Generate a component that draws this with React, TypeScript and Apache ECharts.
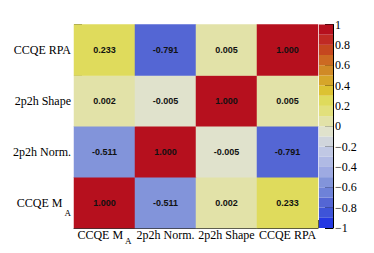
import React, { useEffect, useRef } from "react";
import * as echarts from "echarts";

const params = ["CCQE M_A", "2p2h Norm.", "2p2h Shape", "CCQE RPA"];
// correlation matrix rows (y index from bottom) x columns
const corrRows = [
  [1.0, -0.511, 0.002, 0.233],
  [-0.511, 1.0, -0.005, -0.791],
  [0.002, -0.005, 1.0, 0.005],
  [0.233, -0.791, 0.005, 1.0],
];
// palette bins from -1 to 1, step 0.1
const binEdges = [-1, -0.9, -0.8, -0.7, -0.6, -0.5, -0.4, -0.3, -0.2, -0.1, 0, 0.1, 0.2, 0.3, 0.4, 0.5, 0.6, 0.7, 0.8, 0.9, 1];
const binColors = [
  "#2438e2", "#3e54d8", "#5466d4", "#6e82d8", "#8294da",
  "#9eaae2", "#b0bae4", "#c0c8e4", "#d0d5dc", "#e0e2cc",
  "#e2e2a8", "#e2e07c", "#dfdb5c", "#dcc232", "#d6a62a",
  "#d08a26", "#cc6a22", "#c5471f", "#c02a24", "#b6101e",
];
const scaleTicks = [-1, 1];

const SERIF = "'Liberation Serif', 'DejaVu Serif', serif";
const SANS = "'Liberation Sans', Arial, sans-serif";

function catLabel(v: string) {
  if (v === "CCQE M_A") return "{m|CCQE M}{s|A}";
  return "{m|" + v + "}";
}

export default function App() {
  const ref = useRef<HTMLDivElement>(null);
  useEffect(() => {
    if (!ref.current) return;
    const chart = echarts.init(ref.current, null, { renderer: "svg" });
    const heat: any[] = [];
    corrRows.forEach((row, yi) => row.forEach((v, xi) => heat.push([xi, yi, v])));
    const pieces = binColors.map((c, i) => ({
      gte: binEdges[i],
      lt: i === binColors.length - 1 ? 1.0001 : binEdges[i + 1],
      color: c,
    }));
    const bins = binColors.map((c, i) => [0, binEdges[i], binEdges[i + 1], i]);
    const richX = {
      m: { fontFamily: SERIF, fontSize: 12, color: "#000", lineHeight: 12, verticalAlign: "top" },
      s: { fontFamily: SERIF, fontSize: 9, color: "#000", lineHeight: 9, verticalAlign: "top", padding: [7, 0, 0, 2] },
    };
    const richY = {
      m: { fontFamily: SERIF, fontSize: 12, color: "#000" },
      s: { fontFamily: SERIF, fontSize: 9, color: "#000", padding: [20, 0, 0, 2] },
    };
    const frameLine = { show: true, lineStyle: { color: "#333", width: 1 } };
    chart.setOption({
      animation: false,
      backgroundColor: "#fff",
      grid: [
        { left: 74, top: 24.5, width: 244, height: 203.5 },
        { left: 319, top: 24.5, width: 14, height: 203.5 },
      ],
      xAxis: [
        {
          type: "category",
          gridIndex: 0,
          data: params,
          axisLine: frameLine,
          axisTick: { show: true, inside: true, length: 8, lineStyle: { color: "#333" } },
          axisLabel: {
            interval: 0,
            margin: 1,
            verticalAlign: "top",
            fontFamily: SERIF,
            fontSize: 12,
            color: "#000",
            formatter: catLabel,
            rich: richX,
          },
          splitLine: { show: false },
        },
        {
          type: "category",
          gridIndex: 1,
          data: [""],
          axisLine: { show: false },
          axisTick: { show: false },
          axisLabel: { show: false },
        },
      ],
      yAxis: [
        {
          type: "category",
          gridIndex: 0,
          data: params,
          axisLine: frameLine,
          axisTick: { show: true, inside: true, length: 8, lineStyle: { color: "#333" } },
          axisLabel: {
            interval: 0,
            margin: 3,
            fontFamily: SERIF,
            fontSize: 12,
            color: "#000",
            align: "right",
            formatter: catLabel,
            rich: richY,
          },
          splitLine: { show: false },
        },
        {
          type: "value",
          gridIndex: 1,
          position: "right",
          min: scaleTicks[0],
          max: scaleTicks[1],
          interval: 0.2,
          axisLine: { show: true, lineStyle: { color: "#000", width: 1 } },
          axisTick: { show: true, inside: true, length: 8, lineStyle: { color: "#000" } },
          axisLabel: {
            margin: 2,
            fontFamily: SERIF,
            fontSize: 12,
            color: "#000",
            formatter: (v: number) => {
              const r = Math.round(v * 10) / 10;
              const s = String(Math.abs(r));
              return r < 0 ? "\u2212" + s : s;
            },
          },
          splitLine: { show: false },
        },
      ],
      visualMap: {
        type: "piecewise",
        show: false,
        seriesIndex: 0,
        dimension: 2,
        pieces,
      },
      series: [
        {
          type: "heatmap",
          xAxisIndex: 0,
          yAxisIndex: 0,
          data: heat,
          label: {
            show: true,
            fontFamily: SANS,
            fontSize: 9,
            fontWeight: "bold",
            color: "#111",
            formatter: (p: any) => (p.value[2] as number).toFixed(3),
          },
          itemStyle: { borderWidth: 0 },
          emphasis: { disabled: true },
        },
        {
          type: "custom",
          xAxisIndex: 1,
          yAxisIndex: 1,
          data: bins,
          renderItem: (params: any, api: any) => {
            const lo = api.coord([0, api.value(1)]);
            const hi = api.coord([0, api.value(2)]);
            const w = api.size([1, 0])[0];
            return {
              type: "rect",
              shape: { x: lo[0] - w / 2, y: hi[1], width: w, height: lo[1] - hi[1] },
              style: { fill: binColors[api.value(3)] },
            };
          },
          z: 1,
        },
      ],
    });
    return () => chart.dispose();
  }, []);
  return (
    <div
      ref={ref}
      style={{ position: "fixed", left: 0, top: 0, width: 374, height: 253, background: "#fff" }}
    />
  );
}
